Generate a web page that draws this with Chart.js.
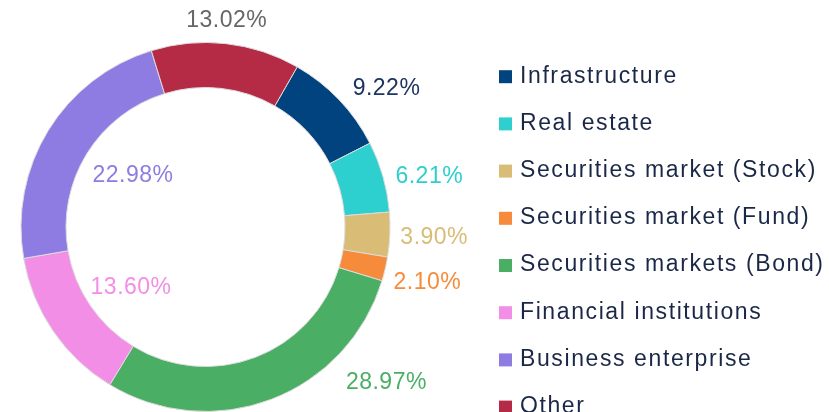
<!DOCTYPE html>
<html>
<head>
<meta charset="utf-8">
<script src="https://cdn.jsdelivr.net/npm/chart.js@4.4.1/dist/chart.umd.min.js"></script>
<style>
  html, body { margin: 0; padding: 0; background: #fff; overflow: hidden; }
  #wrap { width: 829px; height: 412px; position: relative; }
</style>
</head>
<body>
<div id="wrap"><canvas id="chartDagilim"></canvas></div>
<script>
// ── DATA ─────────────────────────────────────
const categories = [
  'Infrastructure', 'Real estate', 'Securities market (Stock)', 'Securities market (Fund)',
  'Securities markets (Bond)', 'Financial institutions', 'Business enterprise', 'Other'
];
const shares = [9.22, 6.21, 3.90, 2.10, 28.97, 13.60, 22.98, 13.02];

const sliceColors = ['#00437f', '#2ecfcf', '#d9bd76', '#f68b3b', '#4bae65', '#f38ee6', '#8f7ce3', '#b52a45'];
const labelColors = ['#1d3461', '#2ecfcf', '#d9bd76', '#f68b3b', '#4bae65', '#f38ee6', '#8f7ce3', '#666666'];

// where each percentage sits: distance as a share of the outer radius,
// and a turn (degrees, clockwise) away from the middle of its slice
const labelDist = [1.235, 1.243, 1.241, 1.239, 1.295, 0.519, 0.483, 1.124];
const labelTurn = [6.2, 3.2, 0.4, 0.8, -28.3, -4.7, 4.0, -0.5];

const FONT = '"Liberation Sans", Arial, sans-serif';

// ── PLUGINS ─────────────────────────────────────
const percentLabels = {
  id: 'percent-labels',
  afterDatasetsDraw(chart) {
    const c = chart.ctx;
    const vals = chart.data.datasets[0].data;
    c.save();
    c.font = '23px ' + FONT;
    c.letterSpacing = '0.5px';
    c.textAlign = 'center';
    c.textBaseline = 'middle';
    chart.getDatasetMeta(0).data.forEach((arc, i) => {
      const { x, y, startAngle, endAngle, outerRadius } =
        arc.getProps(['x', 'y', 'startAngle', 'endAngle', 'outerRadius'], true);
      const a = (startAngle + endAngle) / 2 + labelTurn[i] * Math.PI / 180;
      const r = outerRadius * labelDist[i];
      c.fillStyle = labelColors[i];
      c.fillText(vals[i].toFixed(2) + '%', x + r * Math.cos(a), y + r * Math.sin(a));
    });
    c.restore();
  }
};

const sideLegend = {
  id: 'side-legend',
  afterDraw(chart) {
    const c = chart.ctx;
    const colors = chart.data.datasets[0].backgroundColor;
    const left = 499, top = 76.7, step = 47.2, box = 13;
    c.save();
    c.font = '23px ' + FONT;
    c.letterSpacing = '1.6px';
    c.textAlign = 'left';
    c.textBaseline = 'middle';
    chart.data.labels.forEach((lbl, i) => {
      const cy = top + i * step;
      c.fillStyle = colors[i];
      c.fillRect(left, cy - box / 2, box, box);
      c.fillStyle = '#1a2747';
      c.fillText(lbl, left + box + 8, cy - 0.5);
    });
    c.restore();
  }
};

// ── CHART ─────────────────────────────────────
new Chart(document.getElementById('chartDagilim'), {
  type: 'doughnut',
  data: {
    labels: categories,
    datasets: [{
      data: shares,
      backgroundColor: sliceColors,
      borderColor: '#dcdcdc',
      borderWidth: 1
    }]
  },
  options: {
    responsive: true, maintainAspectRatio: false,
    animation: false,
    rotation: 29.8,
    cutout: '75.6%',
    layout: { padding: { left: 20, top: 42, right: 438, bottom: 0 } },
    plugins: {
      legend: { display: false },
      tooltip: { enabled: false }
    }
  },
  plugins: [percentLabels, sideLegend]
});
</script>
</body>
</html>
